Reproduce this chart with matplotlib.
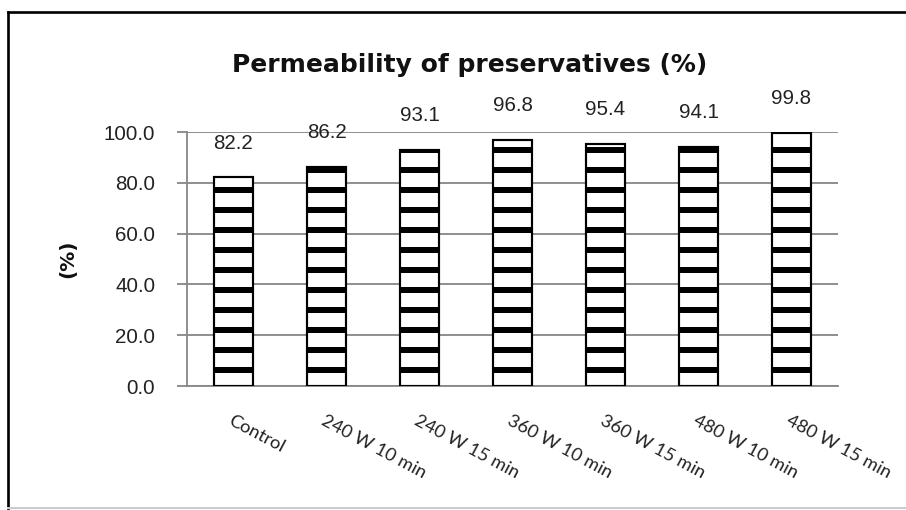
import matplotlib.pyplot as plt
from matplotlib.lines import Line2D

categories = ['Control', '240 W 10 min', '240 W 15 min', '360 W 10 min',
              '360 W 15 min', '480 W 10 min', '480 W 15 min']
permeability = [82.2, 86.2, 93.1, 96.8, 95.4, 94.1, 99.8]
y_ticks = [0, 20, 40, 60, 80, 100]

plt.rcParams['hatch.linewidth'] = 3.6
plt.rcParams['hatch.color'] = 'black'

num_font = 'Liberation Sans'
txt_font = 'Lato'
title_font = 'DejaVu Sans'


def plot_permeability():
    fig = plt.figure(figsize=(906 / 120, 510 / 120), dpi=120)
    ax = fig.add_axes([187 / 906, 1 - 386 / 510, (838 - 187) / 906, (386 - 132) / 510])

    x = range(len(categories))
    bars = ax.bar(x, permeability, width=0.41, color='white', edgecolor='black',
                  linewidth=1.3, hatch='-', zorder=3)

    for rect, val in zip(bars, permeability):
        ax.annotate(f'{val:.1f}', (rect.get_x() + rect.get_width() / 2, val),
                    xytext=(0, 20.5), textcoords='offset points', ha='center',
                    va='center', fontsize=12.3, family=num_font, color='#222222')

    ax.set_xlim(-0.5, len(categories) - 0.5)
    ax.set_ylim(0, 100)
    ax.set_yticks(y_ticks)
    ax.set_yticklabels([f'{t:.1f}' for t in y_ticks], family=num_font,
                       fontsize=12.3, color='#222222')
    ax.tick_params(axis='y', length=6, color='#888888', width=1.1, pad=13)

    ax.set_xticks(list(x))
    ax.set_xticklabels(categories, rotation=-28, ha='left', va='top',
                       rotation_mode='anchor', family=txt_font, fontsize=11,
                       color='#222222')
    ax.tick_params(axis='x', length=0, pad=16)

    ax.grid(axis='y', color='#888888', linewidth=1.1, zorder=0)
    for side in ['top', 'right']:
        ax.spines[side].set_visible(False)
    for side in ['left', 'bottom']:
        ax.spines[side].set_color('#888888')
        ax.spines[side].set_linewidth(1.1)

    ax.set_ylabel('(%)', family=title_font, fontweight='bold', fontsize=12,
                  color='#111111')
    ax.yaxis.set_label_coords((77 - 187) / (838 - 187), 0.5)

    fig.text(470 / 906, 1 - 65 / 510, 'Permeability of preservatives (%)',
             ha='center', va='center', family=title_font, fontweight='semibold',
             fontsize=15, color='#111111')

    # outer frame of the chart area
    fig.add_artist(Line2D([8 / 906, 8 / 906], [1 - 12 / 510, 1 - 508 / 510],
                          color='black', linewidth=1.6))
    fig.add_artist(Line2D([8 / 906, 1], [1 - 12 / 510, 1 - 12 / 510],
                          color='black', linewidth=1.6))
    fig.add_artist(Line2D([8 / 906, 1], [1 - 508 / 510, 1 - 508 / 510],
                          color='#cccccc', linewidth=1.2))

    fig.savefig('out.png', dpi=120)


if __name__ == '__main__':
    plot_permeability()
